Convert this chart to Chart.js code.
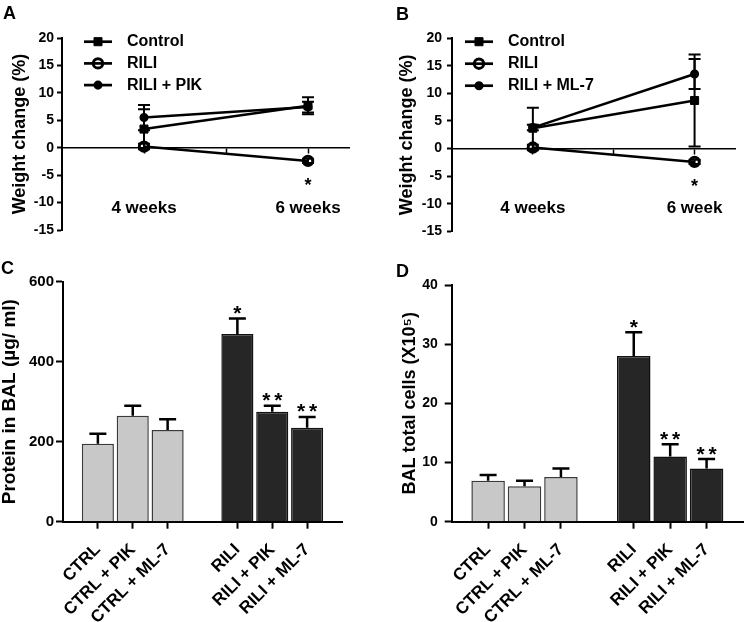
<!DOCTYPE html>
<html>
<head>
<meta charset="utf-8">
<script src="https://cdn.jsdelivr.net/npm/chart.js@4.4.0/dist/chart.umd.min.js"></script>
<style>
  body { margin: 0; background: #fff; }
  #fig { position: relative; width: 750px; height: 622px; font-family: "Liberation Sans", Arial, sans-serif; }
  .panel { position: absolute; }
  .tag { position: absolute; font-weight: bold; font-size: 18px; line-height: 1; color: #000; }
</style>
</head>
<body>
<div id="fig">
  <div class="panel" style="left:0;top:0;width:375px;height:245px"><canvas id="chartA"></canvas></div>
  <div class="panel" style="left:375px;top:0;width:375px;height:245px"><canvas id="chartB"></canvas></div>
  <div class="panel" style="left:0;top:260px;width:375px;height:362px"><canvas id="chartC"></canvas></div>
  <div class="panel" style="left:375px;top:260px;width:375px;height:362px"><canvas id="chartD"></canvas></div>
  <div class="tag" style="left:3px;top:4px">A</div>
  <div class="tag" style="left:396px;top:5px">B</div>
  <div class="tag" style="left:1px;top:259px">C</div>
  <div class="tag" style="left:396px;top:262px">D</div>
</div>
<script>
// datos
const weekLabelsA = ['4 weeks', '6 weeks'];
const weekLabelsB = ['4 weeks', '6 week'];
const weightTicks = [-15, -10, -5, 0, 5, 10, 15, 20];

const controlA = [3.4, 7.65];
const controlAErr = [3.6, 1.55];
const riliA = [0.2, -2.4];
const riliAErr = [0.5, 0.4];
const pikA = [5.5, 7.4];
const pikAErr = [2.3, 1.0];
const riliASig = ['', '*'];

const controlB = [3.7, 8.7];
const controlBErr = [3.7, 8.3];
const riliB = [0.2, -2.4];
const riliBErr = [0.5, 0.4];
const ml7B = [3.8, 13.5];
const ml7BErr = [0.5, 2.7];
const riliBSig = ['', '*'];

const groups = ['CTRL', 'CTRL + PIK', 'CTRL + ML-7', 'RILI', 'RILI + PIK', 'RILI + ML-7'];
const protein = [195, 265, 229, 469, 275, 235];
const proteinErr = [25, 25, 27, 39, 15, 27];
const proteinSig = ['', '', '', '*', '**', '**'];
const proteinTicks = [0, 200, 400, 600];

const cells = [6.9, 6.0, 7.55, 28.0, 11.0, 9.0];
const cellsErr = [1.0, 0.9, 1.45, 4.0, 2.1, 1.6];
const cellsSig = ['', '', '', '*', '**', '**'];
const cellsTicks = [0, 10, 20, 30, 40];

const FONT = '"Liberation Sans", Arial, sans-serif';
Chart.defaults.font.family = FONT;
Chart.defaults.font.weight = 'bold';
Chart.defaults.color = '#000';
Chart.defaults.animation = false;

// posiciones en el eje x
const weekX = i => 1 + 2 * i;
const barX = i => (i < 3 ? i + 1 : i + 2);
const toPts = arr => arr.map((v, i) => ({ x: weekX(i), y: v }));

// el eje x no debe empujar el área del gráfico
const noSidePadding = s => { s.paddingLeft = 0; s.paddingRight = 0; };

function drawMarker(ctx, ds, x, y) {
    const r = ds.pointRadius;
    ctx.save();
    ctx.lineWidth = ds.pointBorderWidth;
    ctx.strokeStyle = ds.pointBorderColor;
    ctx.fillStyle = ds.pointBackgroundColor;
    ctx.beginPath();
    if (ds.pointStyle === 'rect') {
        const s = r * Math.SQRT1_2;
        ctx.rect(x - s, y - s, 2 * s, 2 * s);
    } else {
        ctx.arc(x, y, r, 0, Math.PI * 2);
    }
    ctx.fill();
    ctx.stroke();
    ctx.restore();
}

function drawStars(ctx, text, x, cy, size, gap) {
    ctx.save();
    ctx.font = 'bold ' + size + 'px ' + FONT;
    ctx.fillStyle = '#000';
    ctx.textAlign = 'center';
    ctx.textBaseline = 'alphabetic';
    const chars = text.split('');
    const start = x - (chars.length - 1) * gap / 2;
    chars.forEach((c, k) => ctx.fillText(c, start + k * gap, cy + size * 0.55));
    ctx.restore();
}

// barras de error + asteriscos
const errorBars = {
    id: 'errorBars',
    beforeDatasetsDraw(chart, args, o) {
        if (o.layer === 'before') this.draw(chart, o);
    },
    afterDatasetsDraw(chart, args, o) {
        if (o.layer !== 'before') this.draw(chart, o);
        const ctx = chart.ctx;
        chart.data.datasets.forEach((ds, di) => {
            if (!ds.sig) return;
            const meta = chart.getDatasetMeta(di);
            meta.data.forEach((el, i) => {
                if (!ds.sig[i]) return;
                if (o.both) {
                    drawStars(ctx, ds.sig[i], el.x, el.y + o.starOffset, o.starSize, o.starGap);
                } else {
                    const top = chart.scales.y.getPixelForValue(ds.data[i].y + ds.err[i]);
                    drawStars(ctx, ds.sig[i], el.x, top - o.starOffset, o.starSize, o.starGap);
                }
            });
        });
    },
    draw(chart, o) {
        const ctx = chart.ctx;
        const ys = chart.scales.y;
        chart.data.datasets.forEach((ds, di) => {
            if (!ds.err) return;
            const meta = chart.getDatasetMeta(di);
            meta.data.forEach((el, i) => {
                const v = ds.data[i].y;
                const hi = ys.getPixelForValue(v + ds.err[i]);
                const lo = o.both ? ys.getPixelForValue(v - ds.err[i]) : el.y;
                ctx.save();
                ctx.strokeStyle = '#000';
                ctx.lineWidth = o.width;
                ctx.beginPath();
                ctx.moveTo(el.x, lo);
                ctx.lineTo(el.x, hi);
                ctx.moveTo(el.x - o.cap, hi);
                ctx.lineTo(el.x + o.cap, hi);
                if (o.both) {
                    ctx.moveTo(el.x - o.cap, lo);
                    ctx.lineTo(el.x + o.cap, lo);
                }
                ctx.stroke();
                ctx.restore();
            });
        });
    }
};

// leyenda con línea y símbolo
const lineLegend = {
    id: 'lineLegend',
    afterDraw(chart, args, o) {
        const ctx = chart.ctx;
        chart.data.datasets.forEach((ds, i) => {
            const yy = o.y + i * o.step;
            ctx.save();
            ctx.strokeStyle = '#000';
            ctx.lineWidth = 2.7;
            ctx.beginPath();
            ctx.moveTo(o.x, yy);
            ctx.lineTo(o.x + o.len, yy);
            ctx.stroke();
            drawMarker(ctx, ds, o.x + o.len / 2, yy);
            ctx.fillStyle = '#000';
            ctx.font = 'bold 16px ' + FONT;
            ctx.textBaseline = 'middle';
            ctx.fillText(ds.label, o.textX, yy);
            ctx.restore();
        });
    }
};

function lineSet(label, values, err, style) {
    const base = {
        label: label,
        data: toPts(values),
        err: err,
        borderColor: '#000',
        borderWidth: 2.5,
        pointBorderColor: '#000',
        tension: 0
    };
    if (style === 'square') {
        return Object.assign(base, { pointStyle: 'rect', pointRadius: 5.7, pointBorderWidth: 1, pointBackgroundColor: '#000' });
    }
    if (style === 'open') {
        return Object.assign(base, { pointStyle: 'circle', pointRadius: 4.7, pointBorderWidth: 3, pointBackgroundColor: 'rgba(0,0,0,0)' });
    }
    return Object.assign(base, { pointStyle: 'circle', pointRadius: 3.8, pointBorderWidth: 1.5, pointBackgroundColor: '#000' });
}

function weightChart(id, labels, datasets, cfg) {
    return new Chart(document.getElementById(id), {
        type: 'line',
        data: { datasets: datasets },
        plugins: [errorBars, lineLegend],
        options: {
            responsive: true,
            maintainAspectRatio: false,
            layout: { padding: cfg.padding },
            plugins: {
                legend: { display: false },
                tooltip: { enabled: false },
                errorBars: { layer: 'before', both: true, width: 2, cap: 6, starOffset: 20, starSize: 18, starGap: 0 },
                lineLegend: cfg.legend
            },
            scales: {
                x: {
                    type: 'linear',
                    min: 0,
                    max: 3.5,
                    offset: false,
                    position: { y: 0 },
                    afterBuildTicks: s => { s.ticks = [1, 2, 3].map(v => ({ value: v })); },
                    afterFit: noSidePadding,
                    ticks: {
                        autoSkip: false,
                        maxRotation: 0,
                        padding: cfg.xPad,
                        font: { size: 17 },
                        callback: v => (v === 1 ? labels[0] : v === 3 ? labels[1] : '')
                    },
                    grid: { drawOnChartArea: false, tickLength: 5, tickWidth: 1.5, tickColor: '#000' },
                    border: { color: '#000', width: 1.5 }
                },
                y: {
                    min: -15,
                    max: 20,
                    afterBuildTicks: s => { s.ticks = weightTicks.map(v => ({ value: v })); },
                    afterFit: s => { s.width = cfg.yWidth; },
                    ticks: { padding: cfg.yPad, font: { size: 14 } },
                    grid: { drawOnChartArea: false, tickLength: 5, tickWidth: 2, tickColor: '#000' },
                    border: { color: '#000', width: 2 },
                    title: { display: true, text: 'Weight change (%)', font: { size: 18, weight: 'bold', lineHeight: 1 }, padding: 0 }
                }
            }
        }
    });
}

function barChart(id, values, err, sig, ticksArr, title, cfg) {
    return new Chart(document.getElementById(id), {
        type: 'bar',
        data: {
            datasets: [{
                data: values.map((v, i) => ({ x: barX(i), y: v })),
                err: err,
                sig: sig,
                backgroundColor: values.map((v, i) => (i < 3 ? '#c8c8c8' : '#262626')),
                borderColor: values.map((v, i) => (i < 3 ? '#3a3a3a' : '#111')),
                borderWidth: 1.5,
                barPercentage: 0.92,
                categoryPercentage: 1
            }]
        },
        plugins: [errorBars],
        options: {
            responsive: true,
            maintainAspectRatio: false,
            layout: { padding: cfg.padding },
            plugins: {
                legend: { display: false },
                tooltip: { enabled: false },
                errorBars: { layer: 'after', both: false, width: 2.5, cap: 8.5, starOffset: 10, starSize: 21, starGap: 12 }
            },
            scales: {
                x: {
                    type: 'linear',
                    min: 0,
                    max: 8,
                    offset: false,
                    afterBuildTicks: s => { s.ticks = groups.map((g, i) => ({ value: barX(i) })); },
                    afterFit: s => { s.height = cfg.xHeight; noSidePadding(s); },
                    ticks: {
                        autoSkip: false,
                        minRotation: 45,
                        maxRotation: 45,
                        padding: 11,
                        font: { size: 17 },
                        callback: (v, i) => groups[i]
                    },
                    grid: { offset: false, drawOnChartArea: false, tickLength: 7, tickWidth: 2, tickColor: '#000' },
                    border: { color: '#000', width: 2 }
                },
                y: {
                    min: ticksArr[0],
                    max: ticksArr[ticksArr.length - 1],
                    afterBuildTicks: s => { s.ticks = ticksArr.map(v => ({ value: v })); },
                    afterFit: s => { s.width = cfg.yWidth; },
                    ticks: { padding: cfg.yPad, font: { size: cfg.tickSize } },
                    grid: { drawOnChartArea: false, tickLength: 7, tickWidth: 2, tickColor: '#000' },
                    border: { color: '#000', width: 2 },
                    title: { display: true, text: title, font: { size: cfg.titleSize, weight: 'bold', lineHeight: 1 }, padding: 0 }
                }
            }
        }
    });
}

weightChart('chartA', weekLabelsA, [
    lineSet('Control', controlA, controlAErr, 'square'),
    Object.assign(lineSet('RILI', riliA, riliAErr, 'open'), { sig: riliASig }),
    lineSet('RILI + PIK', pikA, pikAErr, 'filled')
], {
    padding: { left: 11, top: 38, right: 26, bottom: 15 },
    yWidth: 51, yPad: 3, xPad: 45,
    legend: { x: 84, len: 28, textX: 127, y: 41.7, step: 21.7 }
});

weightChart('chartB', weekLabelsB, [
    lineSet('Control', controlB, controlBErr, 'square'),
    Object.assign(lineSet('RILI', riliB, riliBErr, 'open'), { sig: riliBSig }),
    lineSet('RILI + ML-7', ml7B, ml7BErr, 'filled')
], {
    padding: { left: 22.7, top: 38, right: 15, bottom: 13 },
    yWidth: 54.3, yPad: 5, xPad: 44,
    legend: { x: 90, len: 28, textX: 133, y: 41.7, step: 22 }
});

barChart('chartC', protein, proteinErr, proteinSig, proteinTicks, 'Protein in BAL (\u00b5g/ ml)', {
    padding: { left: 0.5, top: 21.7, right: 33, bottom: 0 },
    yWidth: 62.5, yPad: 2, tickSize: 15, titleSize: 19, xHeight: 100.3
});

barChart('chartD', cells, cellsErr, cellsSig, cellsTicks, 'BAL total cells (X10\u2075)', {
    padding: { left: 26, top: 25, right: 7, bottom: 0 },
    yWidth: 50.7, yPad: 7, tickSize: 14, titleSize: 18, xHeight: 100.3
});
</script>
</body>
</html>
